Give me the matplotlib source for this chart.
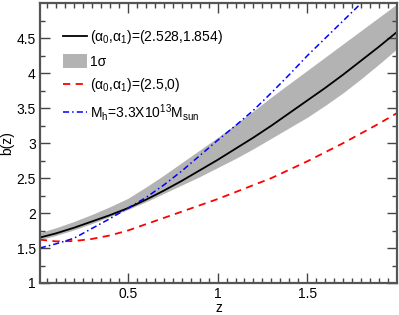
import numpy as np
import matplotlib
matplotlib.use("Agg")
import matplotlib.pyplot as plt

plt.rcParams['font.family'] = ['Liberation Sans', 'DejaVu Sans']
plt.rcParams['mathtext.fontset'] = 'custom'
plt.rcParams['mathtext.rm'] = 'Liberation Sans'
plt.rcParams['mathtext.it'] = 'Liberation Sans'
plt.rcParams['mathtext.bf'] = 'Liberation Sans:bold'

# values
z = [0.01, 0.1, 0.2, 0.3, 0.4, 0.5, 0.6, 0.7, 0.8, 0.9, 1.0,
     1.1, 1.2, 1.3, 1.4, 1.5, 1.6, 1.7, 1.8, 1.9, 2.0]
b_fit = [1.65, 1.71, 1.79, 1.88, 1.97, 2.07, 2.19, 2.32, 2.46, 2.61, 2.76,
         2.92, 3.08, 3.25, 3.43, 3.61, 3.79, 3.98, 4.18, 4.38, 4.59]
b_hi = [1.72, 1.79, 1.88, 1.98, 2.09, 2.21, 2.37, 2.54, 2.72, 2.90, 3.08,
        3.27, 3.46, 3.66, 3.85, 4.04, 4.23, 4.42, 4.61, 4.80, 4.99]
b_lo = [1.62, 1.68, 1.76, 1.85, 1.95, 2.05, 2.16, 2.28, 2.40, 2.52, 2.65,
        2.78, 2.92, 3.07, 3.22, 3.37, 3.54, 3.72, 3.92, 4.13, 4.35]
b_fixed = [1.62, 1.595, 1.60, 1.63, 1.68, 1.75, 1.84, 1.93, 2.02, 2.11, 2.20,
           2.30, 2.40, 2.50, 2.62, 2.74, 2.87, 3.00, 3.14, 3.28, 3.43]
b_halo = [1.50, 1.56, 1.64, 1.78, 1.92, 2.07, 2.22, 2.40, 2.60, 2.82, 3.04,
          3.25, 3.47, 3.72, 3.98, 4.25, 4.50, 4.75, 5.00, 5.26, 5.52]

fig = plt.figure(figsize=(3.99, 3.15), dpi=100)
ax = fig.add_axes([0.1, 0.1016, 0.895, 0.888])

ax.plot(z, b_fit, color='black', lw=1.3, label=r'(α$_0$,α$_1$)=(2.528,1.854)')
ax.fill_between(z, b_lo, b_hi, color='#b3b3b3', lw=0, label='1σ')
ax.plot(z, b_fixed, color='red', lw=1.3, ls=(0, (4, 3)), label=r'(α$_0$,α$_1$)=(2.5,0)')
ax.plot(z, b_halo, color='blue', lw=1.1, ls=(0, (4, 2, 1, 2)),
        label=r'M$_\mathrm{h}$=3.3X10$^{13}$M$_\mathrm{sun}$')

ax.set_xlim(0.01, 2.0)
ax.set_ylim(1, 5)
ax.set_xticks([0.5, 1, 1.5])
ax.set_xticklabels(['0.5', '1', '1.5'])
ax.set_xticks(np.arange(0.05, 2.0, 0.05), minor=True)
ax.set_yticks([1, 1.5, 2, 2.5, 3, 3.5, 4, 4.5])
ax.set_yticklabels(['1', '1.5', '2', '2.5', '3', '3.5', '4', '4.5'])
ax.set_yticks(np.arange(1, 5.0, 0.25), minor=True)
ax.tick_params(which='both', direction='in', top=True, right=True,
               color='#444444', labelsize=10, width=1, pad=3)
ax.tick_params(which='major', length=7)
ax.tick_params(which='minor', length=3.5)
for s in ax.spines.values():
    s.set_color('#555555')
    s.set_linewidth(1.6)

ax.set_xlabel('z', fontsize=10, labelpad=0)
ax.set_ylabel('b(z)', fontsize=10)
ax.yaxis.set_label_coords(-0.072, 0.5)

ax.legend(loc='upper left', bbox_to_anchor=(0.05, 0.93), frameon=False,
          fontsize=10, handlelength=1.7, handleheight=1.2, handletextpad=0.2,
          labelspacing=0.55, borderaxespad=0)

fig.savefig('out.png', dpi=100)
